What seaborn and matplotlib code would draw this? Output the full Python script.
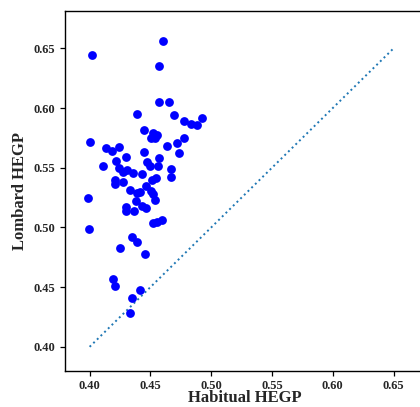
import matplotlib
matplotlib.use("Agg")
import matplotlib.pyplot as plt
import seaborn as sns
import pandas as pd

# habitual vs lombard HEGP, one point per speaker
habitual = [0.4022, 0.4600, 0.4573, 0.4571, 0.4653, 0.4392, 0.4697, 0.4776, 0.4923, 0.4831,
            0.4882, 0.4450, 0.4521, 0.4554, 0.4503, 0.4540, 0.4779, 0.4003, 0.4717, 0.4136,
            0.4183, 0.4241, 0.4635, 0.4447, 0.4738, 0.4302, 0.4569, 0.4109, 0.4216, 0.4475,
            0.4495, 0.4563, 0.4239, 0.4271, 0.4308, 0.4357, 0.4427, 0.4672, 0.4669, 0.4544,
            0.4512, 0.4211, 0.4206, 0.4271, 0.4466, 0.4328, 0.4388, 0.4417, 0.4506, 0.4524,
            0.3989, 0.4536, 0.4384, 0.4299, 0.4300, 0.4368, 0.4431, 0.4466, 0.4519, 0.4555,
            0.4593, 0.3992, 0.4349, 0.4391, 0.4251, 0.4454, 0.4192, 0.4206, 0.4411, 0.4345,
            0.4329]
lombard = [0.6443, 0.6560, 0.6348, 0.6049, 0.6049, 0.5949, 0.5941, 0.5888, 0.5917, 0.5863,
           0.5861, 0.5818, 0.5787, 0.5773, 0.5748, 0.5750, 0.5745, 0.5712, 0.5708, 0.5666,
           0.5643, 0.5674, 0.5681, 0.5635, 0.5622, 0.5593, 0.5582, 0.5516, 0.5557, 0.5544,
           0.5515, 0.5513, 0.5497, 0.5463, 0.5477, 0.5453, 0.5444, 0.5488, 0.5425, 0.5415,
           0.5396, 0.5398, 0.5367, 0.5381, 0.5350, 0.5311, 0.5289, 0.5298, 0.5308, 0.5282,
           0.5243, 0.5229, 0.5223, 0.5175, 0.5137, 0.5135, 0.5178, 0.5159, 0.5039, 0.5048,
           0.5059, 0.4984, 0.4916, 0.4874, 0.4827, 0.4776, 0.4564, 0.4508, 0.4472, 0.4408,
           0.4285]

# identity line
diag = [0.40, 0.65]
ticks = [0.40, 0.45, 0.50, 0.55, 0.60, 0.65]

df = pd.DataFrame({'habitual': habitual, 'lombard': lombard})

sns.set_style("white")
plt.rcParams['font.family'] = ['Liberation Serif', 'DejaVu Serif']
plt.rcParams['font.weight'] = 'bold'

fig = plt.figure(figsize=(4.2, 4.07), dpi=100)
ax = fig.add_axes([0.1555, 0.0892, 0.854, 0.883])

sns.scatterplot(data=df, x='habitual', y='lombard', color='blue', s=40,
                edgecolor='blue', linewidth=0, ax=ax, zorder=3)
sns.lineplot(x=diag, y=diag, color='#1f77b4', linestyle=':', linewidth=1.4, ax=ax)

ax.set_xlim(0.38, 0.675)
ax.set_ylim(0.38, 0.681)
ax.set_xticks(ticks)
ax.set_yticks(ticks)
ax.set_xticklabels([f"{t:.2f}" for t in ticks], fontsize=9, fontweight='bold')
ax.set_yticklabels([f"{t:.2f}" for t in ticks], fontsize=9, fontweight='bold')
ax.tick_params(direction='out', length=3.5, width=0.9, color='black', bottom=True, left=True)
ax.tick_params(axis='x', pad=3)

for sp in ax.spines.values():
    sp.set_color('black')
    sp.set_linewidth(1.0)

ax.set_xlabel("Habitual HEGP", fontsize=12, fontweight='bold', labelpad=-1)
ax.set_ylabel("Lombard HEGP", fontsize=12, fontweight='bold', labelpad=4)

plt.savefig("out.png", dpi=100)
